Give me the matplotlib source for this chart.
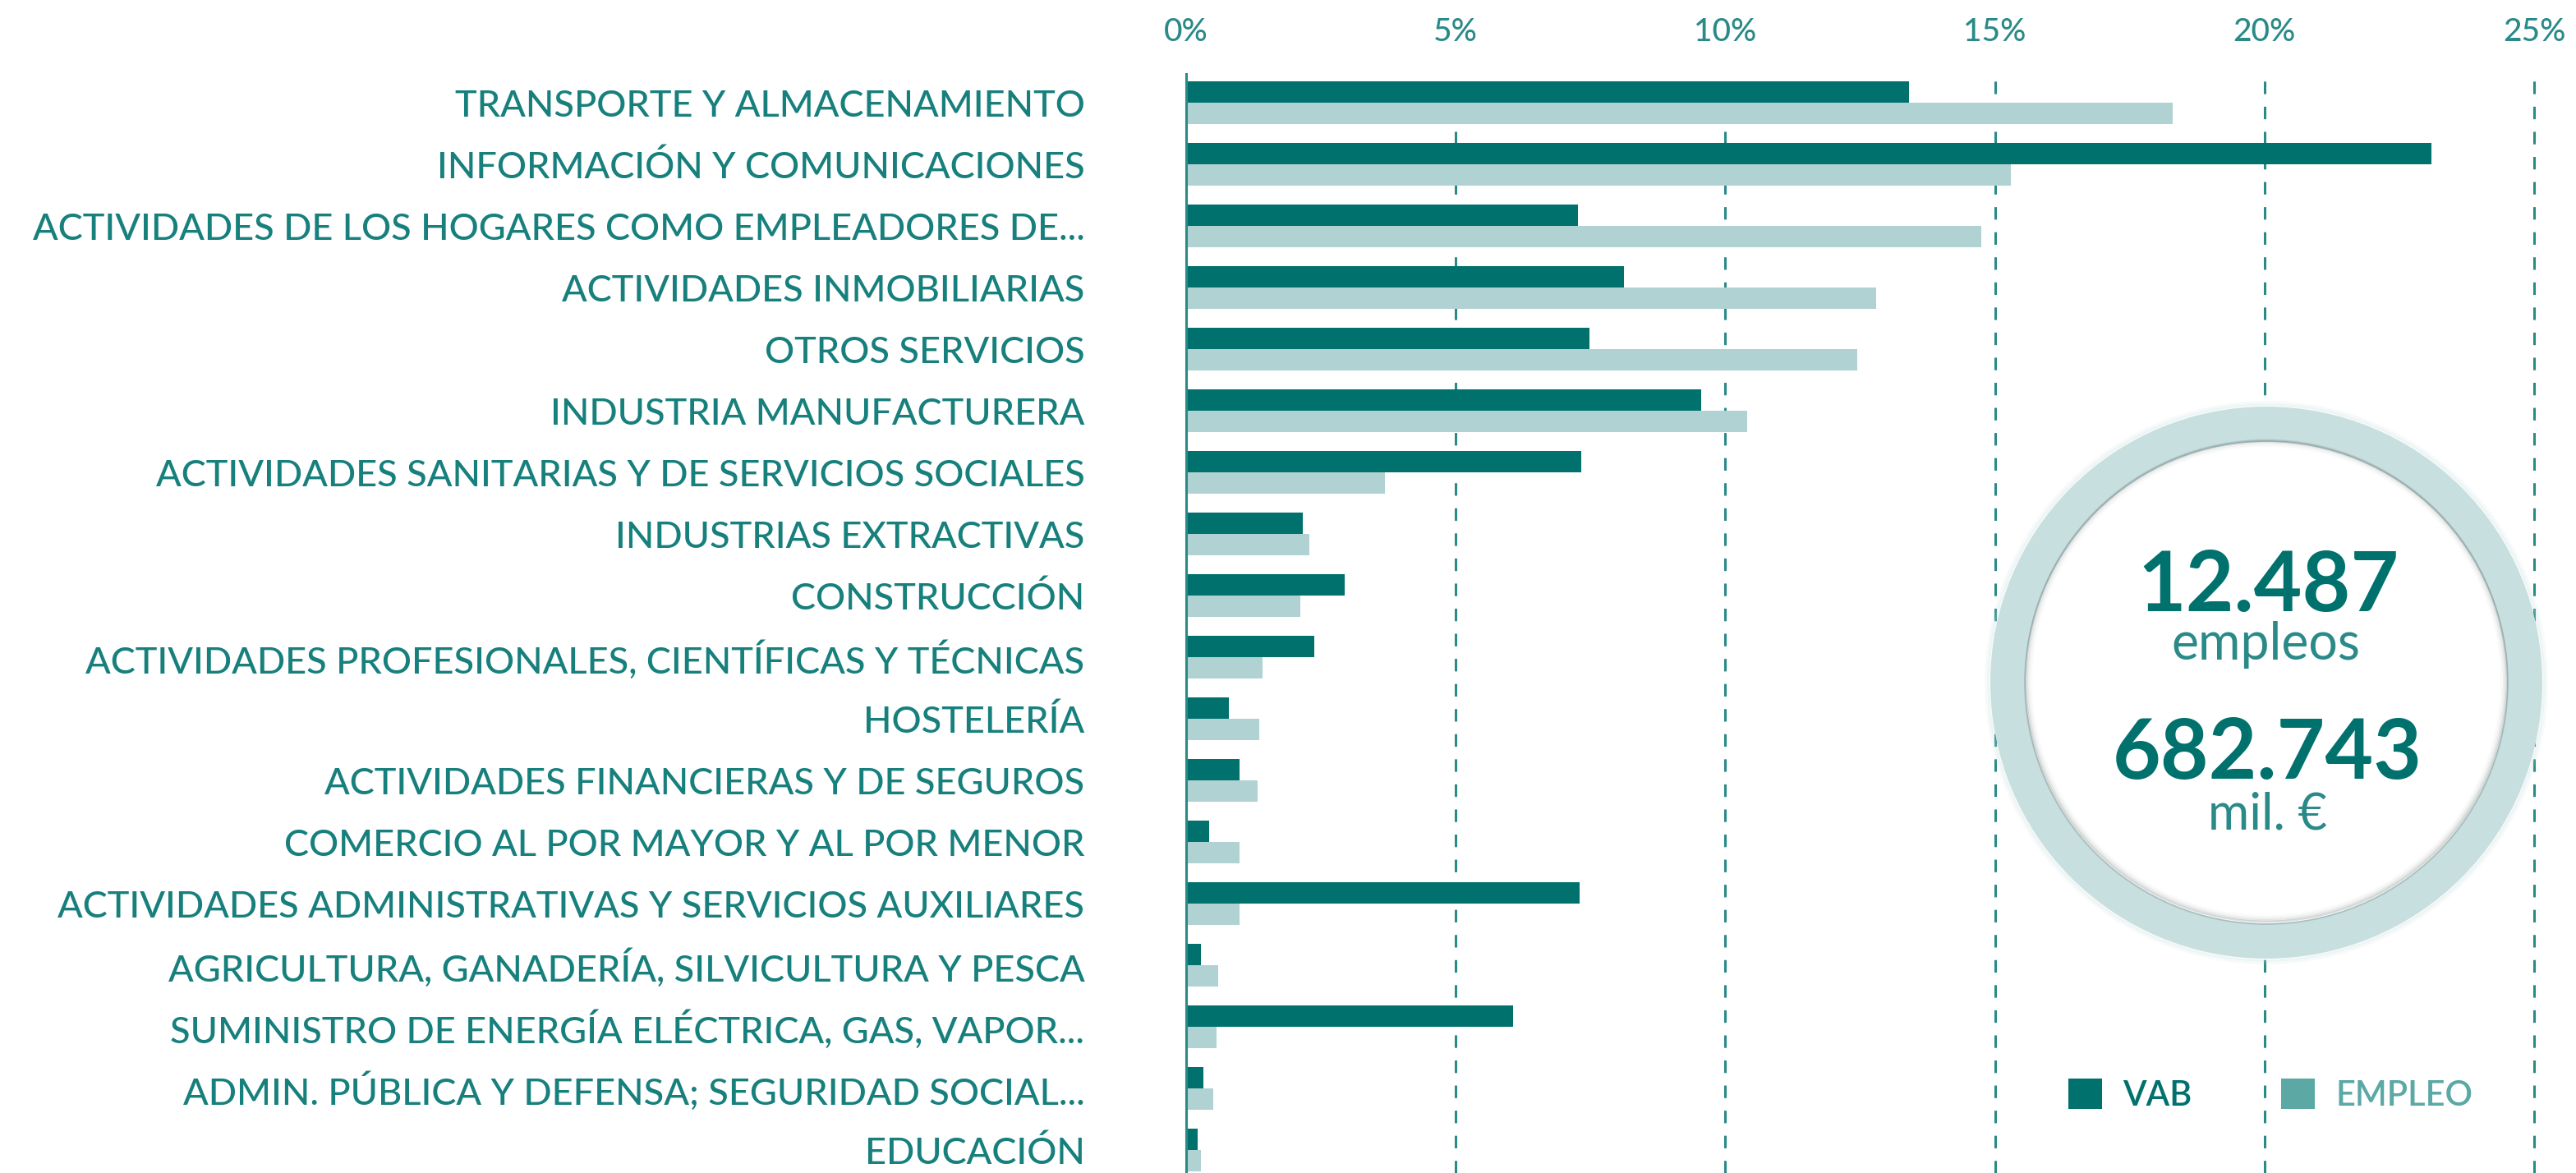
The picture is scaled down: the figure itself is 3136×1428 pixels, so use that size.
import matplotlib
matplotlib.use("Agg")
import matplotlib.pyplot as plt
from matplotlib.patches import Ellipse, Patch
import numpy as np

categories = [
    "TRANSPORTE Y ALMACENAMIENTO",
    "INFORMACIÓN Y COMUNICACIONES",
    "ACTIVIDADES DE LOS HOGARES COMO EMPLEADORES DE...",
    "ACTIVIDADES INMOBILIARIAS",
    "OTROS SERVICIOS",
    "INDUSTRIA MANUFACTURERA",
    "ACTIVIDADES SANITARIAS Y DE SERVICIOS SOCIALES",
    "INDUSTRIAS EXTRACTIVAS",
    "CONSTRUCCIÓN",
    "ACTIVIDADES PROFESIONALES, CIENTÍFICAS Y TÉCNICAS",
    "HOSTELERÍA",
    "ACTIVIDADES FINANCIERAS Y DE SEGUROS",
    "COMERCIO AL POR MAYOR Y AL POR MENOR",
    "ACTIVIDADES ADMINISTRATIVAS Y SERVICIOS AUXILIARES",
    "AGRICULTURA, GANADERÍA, SILVICULTURA Y PESCA",
    "SUMINISTRO DE ENERGÍA ELÉCTRICA, GAS, VAPOR...",
    "ADMIN. PÚBLICA Y DEFENSA; SEGURIDAD SOCIAL...",
    "EDUCACIÓN",
]
vab = [13.4, 23.1, 7.27, 8.12, 7.48, 9.55, 7.33, 2.17, 2.94, 2.37,
       0.79, 0.99, 0.42, 7.29, 0.27, 6.06, 0.32, 0.22]
empleo = [18.3, 15.3, 14.74, 12.79, 12.45, 10.41, 3.69, 2.29, 2.12, 1.41,
          1.36, 1.32, 0.99, 0.99, 0.60, 0.56, 0.51, 0.27]
xticks = [0, 5, 10, 15, 20, 25]
xtick_labels = ["0%", "5%", "10%", "15%", "20%", "25%"]
series_names = ["VAB", "EMPLEO"]
total_empleos = "12.487"
total_vab = "682.743"

C_VAB = "#00716D"
C_EMP = "#B0D2D2"
C_EMP_LEG = "#5BA8A5"
C_TEXT = "#17807D"
C_TICK = "#2A8A88"
C_GRID = "#2A8A88"
C_RING = "#C8DFDF"

W, H = 3136, 1428
DPI = 100
fig = plt.figure(figsize=(W / DPI, H / DPI), dpi=DPI)
fig.patch.set_facecolor("white")

x0_px, x25_px = 1444, 3085
xmax = 25.3
right_px = x0_px + (x25_px - x0_px) * xmax / 25
top_px = 90
ax = fig.add_axes([x0_px / W, 0, (right_px - x0_px) / W, 1 - top_px / H])

y = np.arange(len(categories))
bh = 0.34
ax.barh(y - 0.175, vab, height=bh, color=C_VAB, zorder=3, label=series_names[0])
ax.barh(y + 0.175, empleo, height=bh, color=C_EMP, zorder=3, label=series_names[1])

ax.set_xlim(0, xmax)
ax.set_ylim(17.373, -0.467)

ax.set_yticks(y)
ax.set_yticklabels(categories, fontsize=32.5, color=C_TEXT, family="Lato",
                   fontweight="medium")
ax.tick_params(axis="y", length=0, pad=89)

ax.xaxis.tick_top()
ax.set_xticks(xticks)
ax.set_xticklabels(xtick_labels, fontsize=28, color=C_TICK, family="Lato",
                   fontweight="medium")
ax.tick_params(axis="x", length=0, pad=24)

for s in ["top", "right", "bottom"]:
    ax.spines[s].set_visible(False)
ax.spines["left"].set_color(C_GRID)
ax.spines["left"].set_linewidth(2.2)
ax.spines["left"].set_zorder(4)

ax.grid(axis="x", color=C_GRID, linestyle=(0, (5, 5)), linewidth=2.2, zorder=1)
ax.grid(axis="y", visible=False)
ax.set_axisbelow(True)

# Circle with ring
cx, cy, r = 2759, 831, 336
ring = 43
def fe(px_x, px_y, rad, **kw):
    return Ellipse((px_x / W, 1 - px_y / H), 2 * rad / W, 2 * rad / H,
                   transform=fig.transFigure, **kw)

for i, a in enumerate([0.25, 0.15, 0.08]):
    fig.add_artist(fe(cx, cy, r + 2 + 2 * i, facecolor="none",
                      edgecolor=(0.78, 0.87, 0.87, a), linewidth=2.0, zorder=5))
fig.add_artist(fe(cx, cy, r, facecolor=C_RING, edgecolor="none", zorder=6))
fig.add_artist(fe(cx, cy, r - ring, facecolor="white", edgecolor="none", zorder=6.5))
# inner shadow
for i, a in enumerate([0.20, 0.12, 0.07, 0.035, 0.015]):
    fig.add_artist(fe(cx, cy - 2, r - ring - i * 1.8, facecolor="none",
                      edgecolor=(0.3, 0.35, 0.35, a), linewidth=1.8, zorder=7))
fig.add_artist(fe(cx, cy, r - ring + 1, facecolor="none",
                  edgecolor=(0.55, 0.62, 0.62, 0.5), linewidth=1.2, zorder=7.1))

def ftext(px_x, px_y, s, **kw):
    fig.text(px_x / W, 1 - px_y / H, s, transform=fig.transFigure, zorder=8, **kw)

ftext(2762, 744, total_empleos, fontsize=73, fontweight="bold", family="Lato",
      color=C_VAB, ha="center", va="baseline")
ftext(2758, 803, "empleos", fontsize=45, fontweight="normal", family="Lato",
      color=C_TICK, ha="center", va="baseline")
ftext(2760, 948, total_vab, fontsize=73, fontweight="bold", family="Lato",
      color=C_VAB, ha="center", va="baseline")
ftext(2760, 1010, "mil. €", fontsize=44, fontweight="normal", family="Lato",
      color=C_TICK, ha="center", va="baseline")

# Legend
handles = [Patch(facecolor=C_VAB, edgecolor="none"), Patch(facecolor=C_EMP_LEG, edgecolor="none")]
leg = ax.legend(handles, series_names, loc="center",
                bbox_to_anchor=(2764 / W, 1 - 1333 / H), bbox_transform=fig.transFigure,
                ncol=2, frameon=False,
                prop={"family": "Lato", "size": 30, "weight": "semibold"},
                handlelength=1.0, handleheight=1.0, handletextpad=0.6,
                columnspacing=2.6)
for t, c in zip(leg.get_texts(), [C_VAB, C_EMP_LEG]):
    t.set_color(c)

fig.savefig("out.png", dpi=DPI, facecolor="white")
